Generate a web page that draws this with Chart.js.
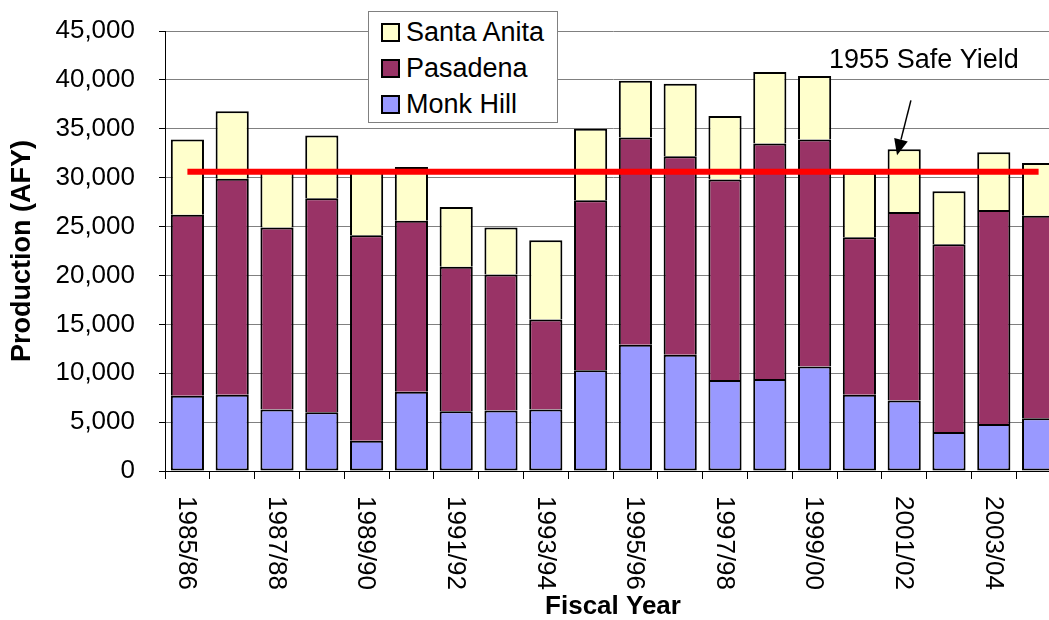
<!DOCTYPE html>
<html>
<head>
<meta charset="utf-8">
<script src="https://cdn.jsdelivr.net/npm/chart.js@4"></script>
<style>
  html, body { margin: 0; padding: 0; background: #fff; overflow: hidden; }
  #wrap { position: relative; width: 1064px; height: 620px; }
  #legend {
    position: absolute; left: 368px; top: 11px; width: 188px; height: 110px;
    border: 1px solid #808080; background: #fff;
    font-family: Arial, "Liberation Sans", sans-serif; font-size: 27px; color: #000;
  }
  #legend .row { position: absolute; left: 0; height: 36px; line-height: 36px; white-space: nowrap; }
  #legend .box { position: absolute; left: 12px; top: 9px; width: 15px; height: 15px; border: 2px solid #000; }
  #legend .txt { position: absolute; left: 37px; top: 0; }
</style>
</head>
<body>
<div id="wrap">
  <canvas id="prodChart"></canvas>
  <div id="legend"></div>
</div>
<script>
// Fiscal years
const years = ['1985/86', '1986/87', '1987/88', '1988/89', '1989/90', '1990/91', '1991/92',
  '1992/93', '1993/94', '1994/95', '1995/96', '1996/97', '1997/98', '1998/99', '1999/00',
  '2000/01', '2001/02', '2002/03', '2003/04', '2004/05'];

// Production (AFY) by basin
const monkHill = [7700, 7800, 6300, 6000, 3100, 8100, 6100, 6200, 6300, 10300,
  12900, 11900, 9300, 9400, 10700, 7800, 7200, 4000, 4800, 5400];
const pasadena = [18500, 22100, 18600, 21900, 21000, 17500, 14800, 13900, 9200, 17400,
  21200, 20300, 20500, 24100, 23200, 16100, 19300, 19200, 21900, 20700];
const santaAnita = [7700, 6900, 5700, 6400, 6500, 5500, 6100, 4800, 8100, 7300,
  5800, 7400, 6500, 7300, 6500, 6600, 6400, 5400, 5900, 5400];

const safeYield = 30600;
const yTicks = [0, 5000, 10000, 15000, 20000, 25000, 30000, 35000, 40000, 45000];

const FONT = 'Arial, "Liberation Sans", sans-serif';

// rotated category labels, every other year, reading top to bottom
const xLabelPlugin = {
  id: 'xLabels',
  afterDraw(chart) {
    const ctx = chart.ctx;
    const xs = chart.scales.x;
    const bottom = chart.chartArea.bottom;
    ctx.save();
    ctx.font = '26px ' + FONT;
    ctx.fillStyle = '#000';
    ctx.textAlign = 'left';
    ctx.textBaseline = 'middle';
    years.forEach((lbl, i) => {
      if (i % 2 !== 0) return;
      ctx.save();
      ctx.translate(xs.getPixelForValue(i) - 1, bottom + 25);
      ctx.rotate(Math.PI / 2);
      ctx.fillText(lbl, 0, 0);
      ctx.restore();
    });
    ctx.restore();
  }
};

// "1955 Safe Yield" note with its arrow
const notePlugin = {
  id: 'safeYieldNote',
  afterDraw(chart) {
    const ctx = chart.ctx;
    const xs = chart.scales.x, ys = chart.scales.y;
    ctx.save();
    ctx.font = '27px ' + FONT;
    ctx.fillStyle = '#000';
    ctx.textAlign = 'center';
    ctx.textBaseline = 'middle';
    ctx.fillText('1955 Safe Yield', xs.getPixelForValue(16.44), ys.getPixelForValue(42000));

    const x0 = xs.getPixelForValue(16.15), y0 = ys.getPixelForValue(37900);
    const x1 = xs.getPixelForValue(15.84), y1 = ys.getPixelForValue(32300);
    const ang = Math.atan2(y1 - y0, x1 - x0);
    const head = 16, half = 7;
    ctx.strokeStyle = '#000';
    ctx.lineWidth = 1.5;
    ctx.beginPath();
    ctx.moveTo(x0, y0);
    ctx.lineTo(x1 - Math.cos(ang) * head, y1 - Math.sin(ang) * head);
    ctx.stroke();
    ctx.beginPath();
    ctx.moveTo(x1, y1);
    ctx.lineTo(x1 - Math.cos(ang) * head - Math.sin(ang) * half, y1 - Math.sin(ang) * head + Math.cos(ang) * half);
    ctx.lineTo(x1 - Math.cos(ang) * head + Math.sin(ang) * half, y1 - Math.sin(ang) * head - Math.cos(ang) * half);
    ctx.closePath();
    ctx.fill();
    ctx.restore();
  }
};

// only the bottom segment keeps a bottom edge, so stacked joints stay single lines
const barStyle = { borderColor: '#000', borderSkipped: false,
  barPercentage: 0.74, categoryPercentage: 1, order: 1 };
const fullEdge = { top: 2, left: 2, right: 2, bottom: 2 };
const openBottom = { top: 2, left: 2, right: 2, bottom: 0 };

const chart = new Chart(document.getElementById('prodChart'), {
  type: 'bar',
  data: {
    labels: years,
    datasets: [
      Object.assign({ label: 'Monk Hill', data: monkHill, backgroundColor: '#9999FF', borderWidth: fullEdge }, barStyle),
      Object.assign({ label: 'Pasadena', data: pasadena, backgroundColor: '#993366', borderWidth: openBottom }, barStyle),
      Object.assign({ label: 'Santa Anita', data: santaAnita, backgroundColor: '#FFFFCC', borderWidth: openBottom }, barStyle),
      {
        type: 'line', label: '1955 Safe Yield', stack: 'safe', order: 0,
        data: years.map(() => safeYield),
        borderColor: '#FF0000', borderWidth: 6, pointRadius: 0, fill: false, tension: 0
      }
    ]
  },
  options: {
    responsive: true,
    maintainAspectRatio: false,
    animation: false,
    layout: { padding: { top: 31, right: 3, bottom: 0, left: 0 } },
    plugins: { legend: { display: false }, tooltip: { enabled: false } },
    scales: {
      x: {
        stacked: true,
        grid: { offset: true, drawOnChartArea: false, tickLength: 8, color: '#000', tickColor: '#000' },
        border: { color: '#000', width: 1 },
        ticks: { display: false },
        title: { display: true, text: 'Fiscal Year', color: '#000',
          font: { family: FONT, size: 26, weight: 'bold', lineHeight: 1 },
          padding: { top: 0, bottom: 0 } },
        afterFit(scale) { scale.height = 149; }
      },
      y: {
        stacked: true,
        min: 0, max: 45000,
        afterBuildTicks(scale) { scale.ticks = yTicks.map(v => ({ value: v })); },
        grid: { color: '#808080', tickLength: 6, tickColor: '#000' },
        border: { color: '#000', width: 1 },
        ticks: { color: '#000', padding: 24, font: { family: FONT, size: 26 },
          callback: v => v.toLocaleString('en-US') },
        title: { display: true, text: 'Production (AFY)', color: '#000',
          font: { family: FONT, size: 27, weight: 'bold', lineHeight: 1 },
          padding: { top: 9, bottom: 0 } },
        afterFit(scale) {
          scale.width = 165;
          scale.paddingTop = 0;
          scale.paddingBottom = 0;
        }
      }
    }
  },
  plugins: [xLabelPlugin, notePlugin]
});

// legend: bar series, top of stack first
const legend = document.getElementById('legend');
chart.data.datasets.filter(d => d.type !== 'line').reverse().forEach((d, i) => {
  const row = document.createElement('div');
  row.className = 'row';
  row.style.top = (2 + i * 36) + 'px';
  row.innerHTML = '<span class="box" style="background:' + d.backgroundColor + '"></span>' +
    '<span class="txt">' + d.label + '</span>';
  legend.appendChild(row);
});
</script>
</body>
</html>
